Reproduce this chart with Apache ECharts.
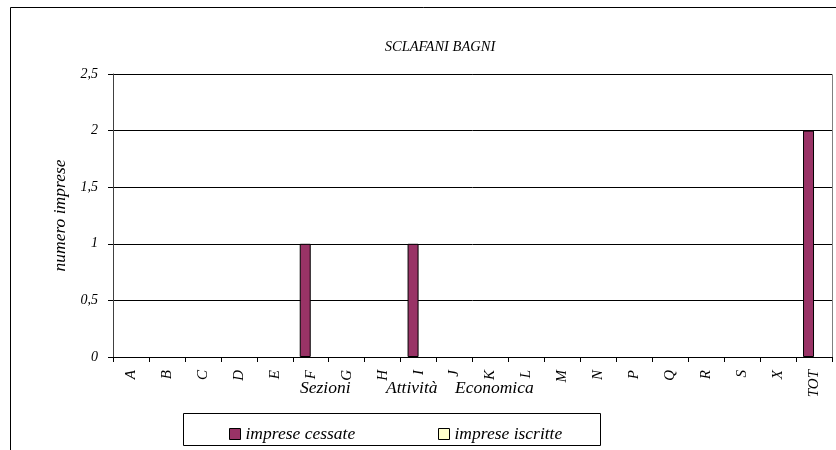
<!DOCTYPE html>
<html><head><meta charset="utf-8">
<script src="https://cdn.jsdelivr.net/npm/echarts@6/dist/echarts.min.js"></script>
<style>html,body{margin:0;padding:0;background:#fff}#c{width:836px;height:450px}</style>
</head><body><div id="c"></div>
<script>
const categories = ['A','B','C','D','E','F','G','H','I','J','K','L','M','N','P','Q','R','S','X','TOT'];
const cessate = [0,0,0,0,0,1,0,0,1,0,0,0,0,0,0,0,0,0,0,2];
const iscritte = [0,0,0,0,0,0,0,0,0,0,0,0,0,0,0,0,0,0,0,0];
const yTicks = [0,0.5,1,1.5,2,2.5];
const FONT = '"Liberation Serif","Times New Roman",serif';
const toItems = arr => arr.map(v => ({value:v, itemStyle: v===0 ? {borderWidth:0} : {}}));
const legText = {fontFamily:FONT,fontStyle:'italic',fontSize:17.5,color:'#000'};
const chart = echarts.init(document.getElementById('c'));
chart.setOption({
  animation:false,
  backgroundColor:'#fff',
  title:{text:'SCLAFANI BAGNI',left:435,top:35,textAlign:'center',
    textStyle:{fontFamily:FONT,fontStyle:'italic',fontWeight:'normal',fontSize:14.5,color:'#000'}},
  graphic:[
    {type:'rect',shape:{x:10.5,y:7.5,width:840,height:460},style:{fill:'none',stroke:'#000',lineWidth:1},silent:true},
    {type:'rect',shape:{x:113.5,y:74.5,width:719,height:283},style:{fill:'none',stroke:'#808080',lineWidth:1},silent:true,z:-1},
    {type:'rect',shape:{x:183.5,y:413.5,width:417,height:32},style:{fill:'#fff',stroke:'#000',lineWidth:1},silent:true,z:-1},
    {type:'text',left:300,top:379,style:{text:'Sezioni',font:'italic 17.5px '+FONT,fill:'#000'}},
    {type:'text',left:386,top:379,style:{text:'Attività',font:'italic 17.5px '+FONT,fill:'#000'}},
    {type:'text',left:455,top:379,style:{text:'Economica',font:'italic 17.5px '+FONT,fill:'#000'}}
  ],
  legend:[
    {left:224,top:420,itemWidth:11,itemHeight:11,textStyle:legText,
      data:[{name:'imprese cessate',icon:'rect',itemStyle:{borderColor:'#000',borderWidth:1}}]},
    {left:433,top:420,itemWidth:11,itemHeight:11,textStyle:legText,
      data:[{name:'imprese iscritte',icon:'rect',itemStyle:{borderColor:'#000',borderWidth:1}}]}
  ],
  grid:{left:113,right:4,top:74,bottom:93,containLabel:false},
  xAxis:{type:'category',data:categories,
    axisLine:{lineStyle:{color:'#000'}},
    axisTick:{show:true,alignWithLabel:false,length:5,lineStyle:{color:'#000'}},
    axisLabel:{rotate:90,interval:0,fontFamily:FONT,fontStyle:'italic',fontSize:15,color:'#000',margin:13},
    splitLine:{show:false}},
  yAxis:{type:'value',min:0,max:2.5,interval:0.5,
    name:'numero imprese',nameLocation:'middle',nameGap:33,nameRotate:90,
    nameTextStyle:{fontFamily:FONT,fontStyle:'italic',fontSize:17.5,color:'#000'},
    axisLine:{show:true,lineStyle:{color:'#404040'}},
    axisTick:{show:true,length:5,lineStyle:{color:'#000'}},
    axisLabel:{fontFamily:FONT,fontStyle:'italic',fontSize:14,color:'#000',margin:15,
      formatter:v=>yTicks.includes(v)?String(v).replace('.',','):''},
    splitLine:{show:true,lineStyle:{color:'#000',width:1}}},
  series:[
    {name:'imprese cessate',type:'bar',data:toItems(cessate),barWidth:11,barGap:'0%',
      itemStyle:{color:'#993366',borderColor:'#000',borderWidth:1}},
    {name:'imprese iscritte',type:'bar',data:toItems(iscritte),barWidth:11,
      itemStyle:{color:'#FFFFCC',borderColor:'#000',borderWidth:1}}
  ]
});
</script></body></html>
